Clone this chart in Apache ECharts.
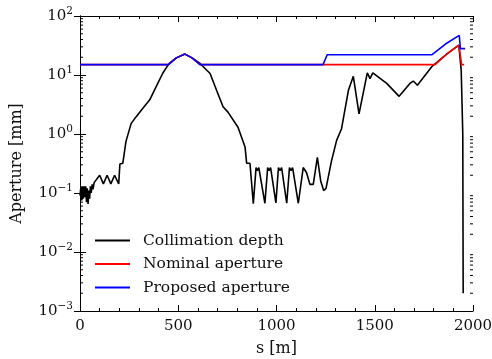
<!DOCTYPE html>
<html><head><meta charset="utf-8">
<script src="https://cdn.jsdelivr.net/npm/echarts@6/dist/echarts.min.js"></script>
<style>html,body{margin:0;padding:0;background:#fff}#c{width:492px;height:359px}</style>
</head><body><div id="c"></div>
<script>
// Collimation depth
const depthS = [0,5,9,13,17,21,25,29,33,37,41,45,49,53,57,62,66,72,82,100,119,138,157,176,197,203,218,234,260,285,326,355,387,421,453,490,534,570,611,662,695,728,753,804,840,848,865,
  882,896,903,910,920,941,955,962,970,980,997,1010,1018,1026,1036,1052,1066,1074,1082,1092,1111,1136,1153,1170,1187,1208,1225,1240,1252,1280,1306,1331,1366,1391,1420,1462,1476,1490,1561,1624,1679,1696,1717,1790,1807,1866,1928,1940,1948,1950];
const depthV = [0.09,0.13,0.075,0.13,0.08,0.13,0.085,0.13,0.07,0.12,0.065,0.11,0.08,0.13,0.10,0.14,0.115,0.15,0.14,0.20,0.143,0.20,0.143,0.20,0.143,0.31,0.32,0.75,1.5,1.95,2.9,3.8,6.3,10.7,15.6,19.5,22.6,19.5,15.7,10.6,5.5,2.9,2.35,1.3,0.6,0.32,0.32,
  0.066,0.27,0.24,0.27,0.25,0.067,0.27,0.24,0.27,0.25,0.068,0.27,0.24,0.27,0.25,0.067,0.27,0.24,0.27,0.25,0.067,0.27,0.22,0.14,0.14,0.40,0.16,0.11,0.12,0.35,0.78,1.23,5.5,9.5,2.2,10.9,8.7,10.9,7.2,4.35,7.2,7.9,6.7,13.8,15.5,22.5,32,12,1.0,0.002];
// Nominal aperture
const nominalS = [0,450,490,534,570,611,1807,1866,1928,1942,1955];
const nominalV = [15,15,19.5,22.6,19.5,15,15,22.5,32,15,15];
// Proposed aperture
const proposedS = [0,450,490,534,570,611,1237,1258,1790,1860,1930,1936,1960];
const proposedV = [15,15,19.5,22.6,19.5,15,15,22,22,33.5,47,28,28];
// Axis ticks
const xTicks = [0,500,1000,1500,2000];
const yDecades = [0.001,0.01,0.1,1,10,100];
const minorMult = [2,3,4,5,6,7,8,9];

const pairs = (a,b)=>a.map((s,i)=>[s,b[i]]);
const minorVals = [];
yDecades.slice(0,-1).forEach(d=>minorMult.forEach(m=>minorVals.push([0,d*m])));

const FONT = 'DejaVu Serif';
const sup = {b:{fontFamily:FONT,fontSize:15,color:'#111'},e:{fontFamily:FONT,fontSize:10.5,color:'#111',padding:[0,0,10,0]}};
const yFmt = v=>{const e=Math.round(Math.log10(v)); return '{b|10}{e|'+(e<0?'\u2212'+(-e):e)+'}';};

const chart = echarts.init(document.getElementById('c'),null,{renderer:'canvas'});
const axisLine = {show:true,lineStyle:{color:'#000',width:1}};
chart.setOption({
  animation:false,
  backgroundColor:'#fff',
  grid:{left:80,right:19,top:16,bottom:48,show:false,containLabel:false,outerBoundsMode:'none'},
  legend:{
    data:['Collimation depth','Nominal aperture','Proposed aperture'],
    orient:'vertical',left:90,top:227,icon:'rect',itemWidth:35,itemHeight:2,itemGap:6.5,
    textStyle:{fontFamily:FONT,fontSize:15.5,color:'#111',lineHeight:17,padding:[0,0,0,8]}
  },
  xAxis:[{
    type:'value',min:0,max:2000,interval:500,position:'bottom',
    name:'s [m]',nameLocation:'middle',nameGap:30,nameTextStyle:{fontFamily:FONT,fontSize:16,color:'#111'},
    axisLine,axisTick:{inside:true,length:6,lineStyle:{color:'#000'}},
    minorTick:{show:true,splitNumber:5,length:3,lineStyle:{color:'#000'}},
    axisLabel:{fontFamily:FONT,fontSize:15,color:'#111',margin:8,formatter:v=>String(v)},
    splitLine:{show:false}
  },{
    type:'value',min:0,max:2000,interval:500,position:'top',
    axisLine,axisTick:{inside:true,length:6,lineStyle:{color:'#000'}},
    minorTick:{show:true,splitNumber:5,length:3,lineStyle:{color:'#000'}},
    axisLabel:{show:false},splitLine:{show:false}
  }],
  yAxis:[{
    type:'log',logBase:10,min:0.001,max:100,position:'left',
    name:'Aperture [mm]',nameLocation:'middle',nameGap:55,nameTextStyle:{fontFamily:FONT,fontSize:16,color:'#111'},
    axisLine,axisTick:{inside:true,length:6,lineStyle:{color:'#000'}},
    axisLabel:{formatter:yFmt,rich:sup,margin:7},
    splitLine:{show:false}
  },{
    type:'log',logBase:10,min:0.001,max:100,position:'right',
    axisLine,axisTick:{inside:true,length:6,lineStyle:{color:'#000'}},
    axisLabel:{show:false},splitLine:{show:false}
  }],
  series:[
    {type:'custom',name:'minor',silent:true,data:minorVals,z:5,
     renderItem:(params,api)=>{
       const cs=params.coordSys; const y=api.coord([0,api.value(1)])[1];
       return {type:'group',children:[
         {type:'line',shape:{x1:cs.x,y1:y,x2:cs.x+3,y2:y},style:{stroke:'#000',lineWidth:1}},
         {type:'line',shape:{x1:cs.x+cs.width-3,y1:y,x2:cs.x+cs.width,y2:y},style:{stroke:'#000',lineWidth:1}}
       ]};
     }},
    {type:'line',name:'Collimation depth',data:pairs(depthS,depthV),showSymbol:false,symbol:'none',
     lineStyle:{color:'#000',width:1.6},itemStyle:{color:'#000'},z:2},
    {type:'line',name:'Nominal aperture',data:pairs(nominalS,nominalV),showSymbol:false,symbol:'none',
     lineStyle:{color:'#ff0000',width:1.6},itemStyle:{color:'#ff0000'},z:3},
    {type:'line',name:'Proposed aperture',data:pairs(proposedS,proposedV),showSymbol:false,symbol:'none',
     lineStyle:{color:'#0000ff',width:1.6},itemStyle:{color:'#0000ff'},z:4}
  ]
});
</script>
</body></html>
